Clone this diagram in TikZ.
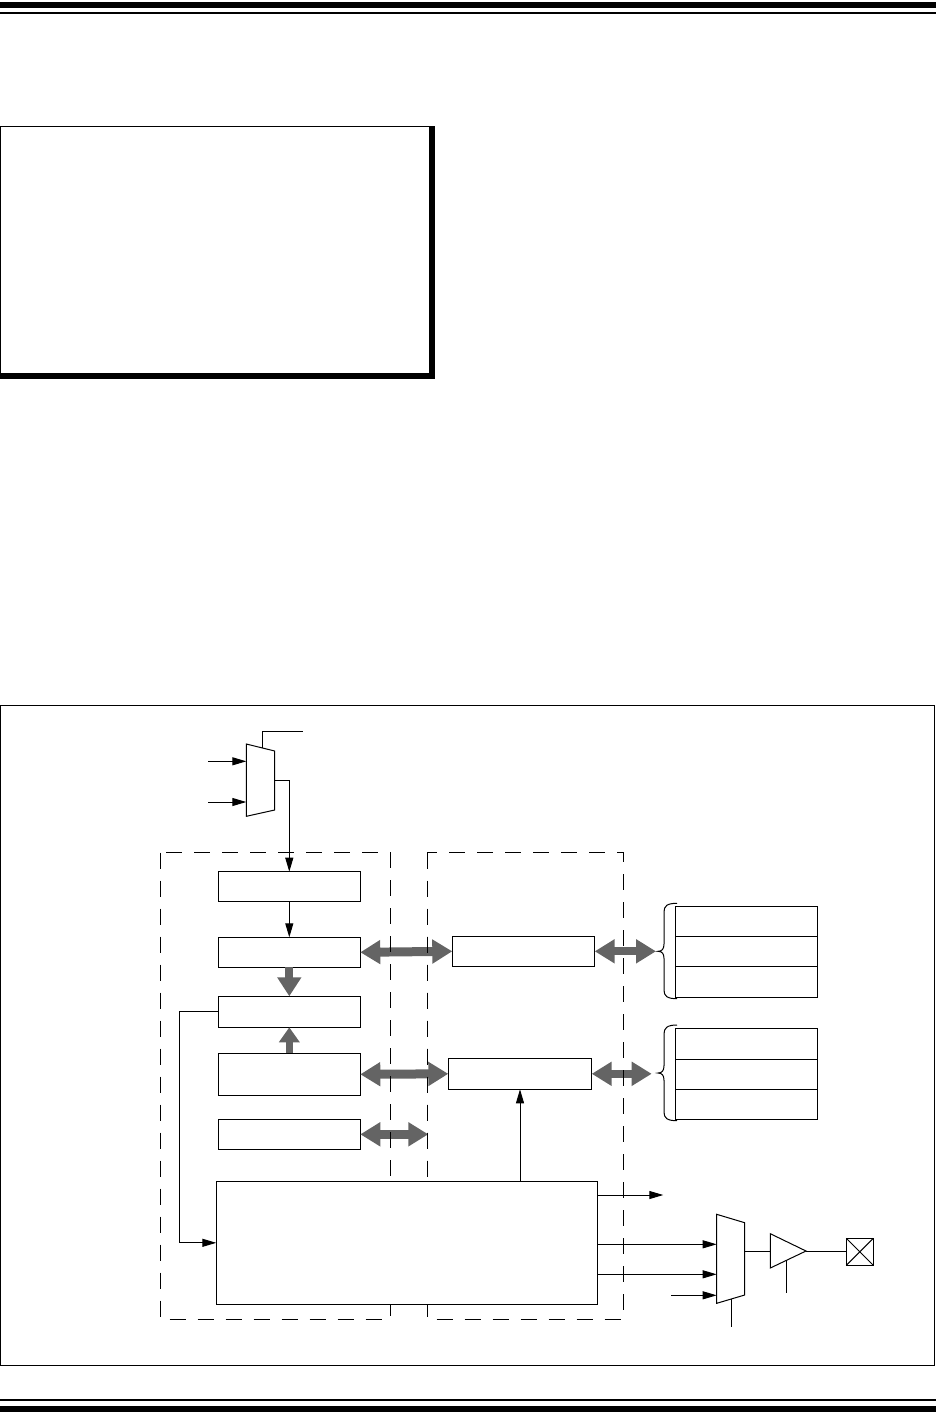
\documentclass[tikz,border=0pt]{standalone}
\usetikzlibrary{arrows.meta}
\definecolor{bus}{RGB}{100,100,100}
\begin{document}
\begin{tikzpicture}[x=1pt,y=-1pt,
  box/.style={draw,line width=1pt,fill=white,inner sep=0pt,outer sep=0pt},
  ln/.style={line width=1pt},
  arr/.style={line width=1pt,-{Triangle[length=14pt,width=8pt]}},
  dbus/.style={draw=bus,line width=9pt,{Triangle[length=20pt,width=23pt]}-{Triangle[length=20pt,width=23pt]}},
  dashbox/.style={line width=1pt,dash pattern=on 16pt off 12pt}]
\useasboundingbox (0,0) rectangle (936,1428);
% page rules
\fill (0,2) rectangle (936,8);
\fill (0,12) rectangle (936,14);
\fill (0,1399) rectangle (936,1401);
\fill (0,1405.7) rectangle (936,1412);
% upper boxed area with shadow
\draw[line width=1pt] (0.5,126.5) rectangle (429,373);
\fill (429,126) rectangle (435,379);
\fill (0,373) rectangle (435,379);
% figure frame
\draw[line width=1pt] (0.5,705) rectangle (934,1365);
% dashed boxes
\draw[dashbox] (160.3,852.7) rectangle (390.3,1319.3);
\draw[dashbox] (427.3,852.7) rectangle (623.3,1319.3);
% blocks
\node[box,minimum width=142pt,minimum height=29.6pt] (b1) at (289.3,886.5) {};
\node[box,minimum width=142pt,minimum height=30pt] (b2) at (289.3,952.3) {};
\node[box,minimum width=142pt,minimum height=31pt] (b3) at (289.3,1011.8) {};
\node[box,minimum width=142pt,minimum height=42pt] (b4) at (289.3,1074.3) {};
\node[box,minimum width=142pt,minimum height=30pt] (b5) at (289.3,1134.3) {};
\node[box,minimum width=142.4pt,minimum height=30pt] (b6) at (523.5,951.3) {};
\node[box,minimum width=143.4pt,minimum height=31pt] (b7) at (520,1073.8) {};
\node[box,minimum width=381pt,minimum height=123pt] (big) at (406.8,1242.8) {};
% register stacks
\node[box,minimum width=142pt,minimum height=30pt] (r1) at (746.7,921.3) {};
\node[box,minimum width=142pt,minimum height=30pt] (r2) at (746.7,951.3) {};
\node[box,minimum width=142pt,minimum height=30.7pt] (r3) at (746.7,981.65) {};
\node[box,minimum width=142pt,minimum height=30.7pt] (r4) at (746.7,1043.65) {};
\node[box,minimum width=142pt,minimum height=30.3pt] (r5) at (746.7,1074.15) {};
\node[box,minimum width=142pt,minimum height=30pt] (r6) at (746.7,1104.3) {};
% pin
\node[box,minimum width=27pt,minimum height=27pt] (pin) at (859.8,1251.8) {};
\draw[ln] (pin.north west) -- (pin.south east) (pin.north east) -- (pin.south west);
% braces
\coordinate (br1) at (658,951.3);
\coordinate (br2) at (658,1073);
\draw[ln] (677,903.3) .. controls (667,903.3) and (664,906) .. (664,912) -- (664,944) .. controls (664,949) and (662,951.3) .. (br1) .. controls (662,951.3) and (664,953.5) .. (664,958.5) -- (664,990) .. controls (664,996) and (667,998.7) .. (677,998.7);
\draw[ln] (677,1025) .. controls (667,1025) and (664,1028) .. (664,1034) -- (664,1065.7) .. controls (664,1070.7) and (662,1073) .. (br2) .. controls (662,1073) and (664,1075.3) .. (664,1080.3) -- (664,1112) .. controls (664,1118) and (667,1120.7) .. (677,1120.7);
% mux 1
\coordinate (m1a) at (246.3,744);
\coordinate (m1b) at (274.7,751);
\coordinate (m1c) at (274.7,810);
\coordinate (m1d) at (246.3,816.3);
\draw[ln,line join=miter] (m1a) -- (m1b) -- (m1c) -- (m1d) -- cycle;
\coordinate (m1in1) at (246.3,761.3);
\coordinate (m1in2) at (246.3,802);
\coordinate (m1s) at (262.3,747.9);
\coordinate (m1o) at (274.7,780.3);
\draw[arr] (208,761.3) -- (m1in1);
\draw[arr] (208,802) -- (m1in2);
\draw[ln] (m1s) -- (262.3,731.3) -- (302.7,731.3);
\draw[arr] (m1o) -| (b1.north);
\draw[arr] (b1.south) -- (b2.north);
% mux 2
\coordinate (m2a) at (716.7,1214.3);
\coordinate (m2b) at (744.7,1222.7);
\coordinate (m2c) at (744.7,1295);
\coordinate (m2d) at (716.7,1303.3);
\draw[ln,line join=miter] (m2a) -- (m2b) -- (m2c) -- (m2d) -- cycle;
\coordinate (m2s) at (731.7,1298.9);
\draw[ln] (m2s) -- (731.7,1327.3);
\draw[arr] (big.east |- 0,1244.3) -- (716.7,1244.3);
\draw[arr] (big.east |- 0,1274.3) -- (716.7,1274.3);
\draw[arr] (671,1295.3) -- (716.7,1295.3);
\coordinate (bigout) at (663.3,1195);
\draw[arr] (big.east |- bigout) -- (bigout);
% buffer
\coordinate (bfa) at (770.3,1233.7);
\coordinate (bfb) at (806,1251);
\coordinate (bfc) at (770.3,1268);
\draw[ln,line join=miter] (bfa) -- (bfb) -- (bfc) -- cycle;
\draw[ln] (744.7,1251) -- (770.3,1251);
\draw[ln] (bfb) -- (pin.west |- bfb);
\draw[ln] (786.3,1260.4) -- (786.3,1292.7);
% feedback
\draw[arr] (b3.west) -- (179.7,1011.8) |- (big.west);
% to b7
\draw[arr] (b7.south |- big.north) -- (b7.south);
% gray buses
\draw[dbus] (b2.east) -- (b6.west);
\draw[dbus] (b4.east) -- (b7.west);
\coordinate (b5r) at (428.3,1134.3);
\draw[dbus] (b5.east) -- (b5r);
\draw[draw=bus,line width=8pt,{Triangle[length=20pt,width=23pt]}-{Triangle[length=20pt,width=23pt]}] (b6.east) -- (656,951.3);
\draw[draw=bus,line width=8pt,{Triangle[length=20pt,width=23pt]}-{Triangle[length=20pt,width=23pt]}] (b7.east) -- (651.7,1073.8);
\draw[draw=bus,line width=8pt,-{Triangle[length=19pt,width=23pt]}] (b2.south) -- (b3.north);
\draw[draw=bus,line width=7pt,-{Triangle[length=15pt,width=20pt]}] (b4.north) -- (b3.south);
% redraw dashed vertical lines over buses
\begin{scope}
\clip (380,930) rectangle (440,1160);
\draw[dashbox] (160.3,852.7) rectangle (390.3,1319.3);
\draw[dashbox] (427.3,852.7) rectangle (623.3,1319.3);
\end{scope}
\begin{scope}
\clip (610,930) rectangle (640,1100);
\draw[dashbox] (427.3,852.7) rectangle (623.3,1319.3);
\end{scope}
\end{tikzpicture}
\end{document}
